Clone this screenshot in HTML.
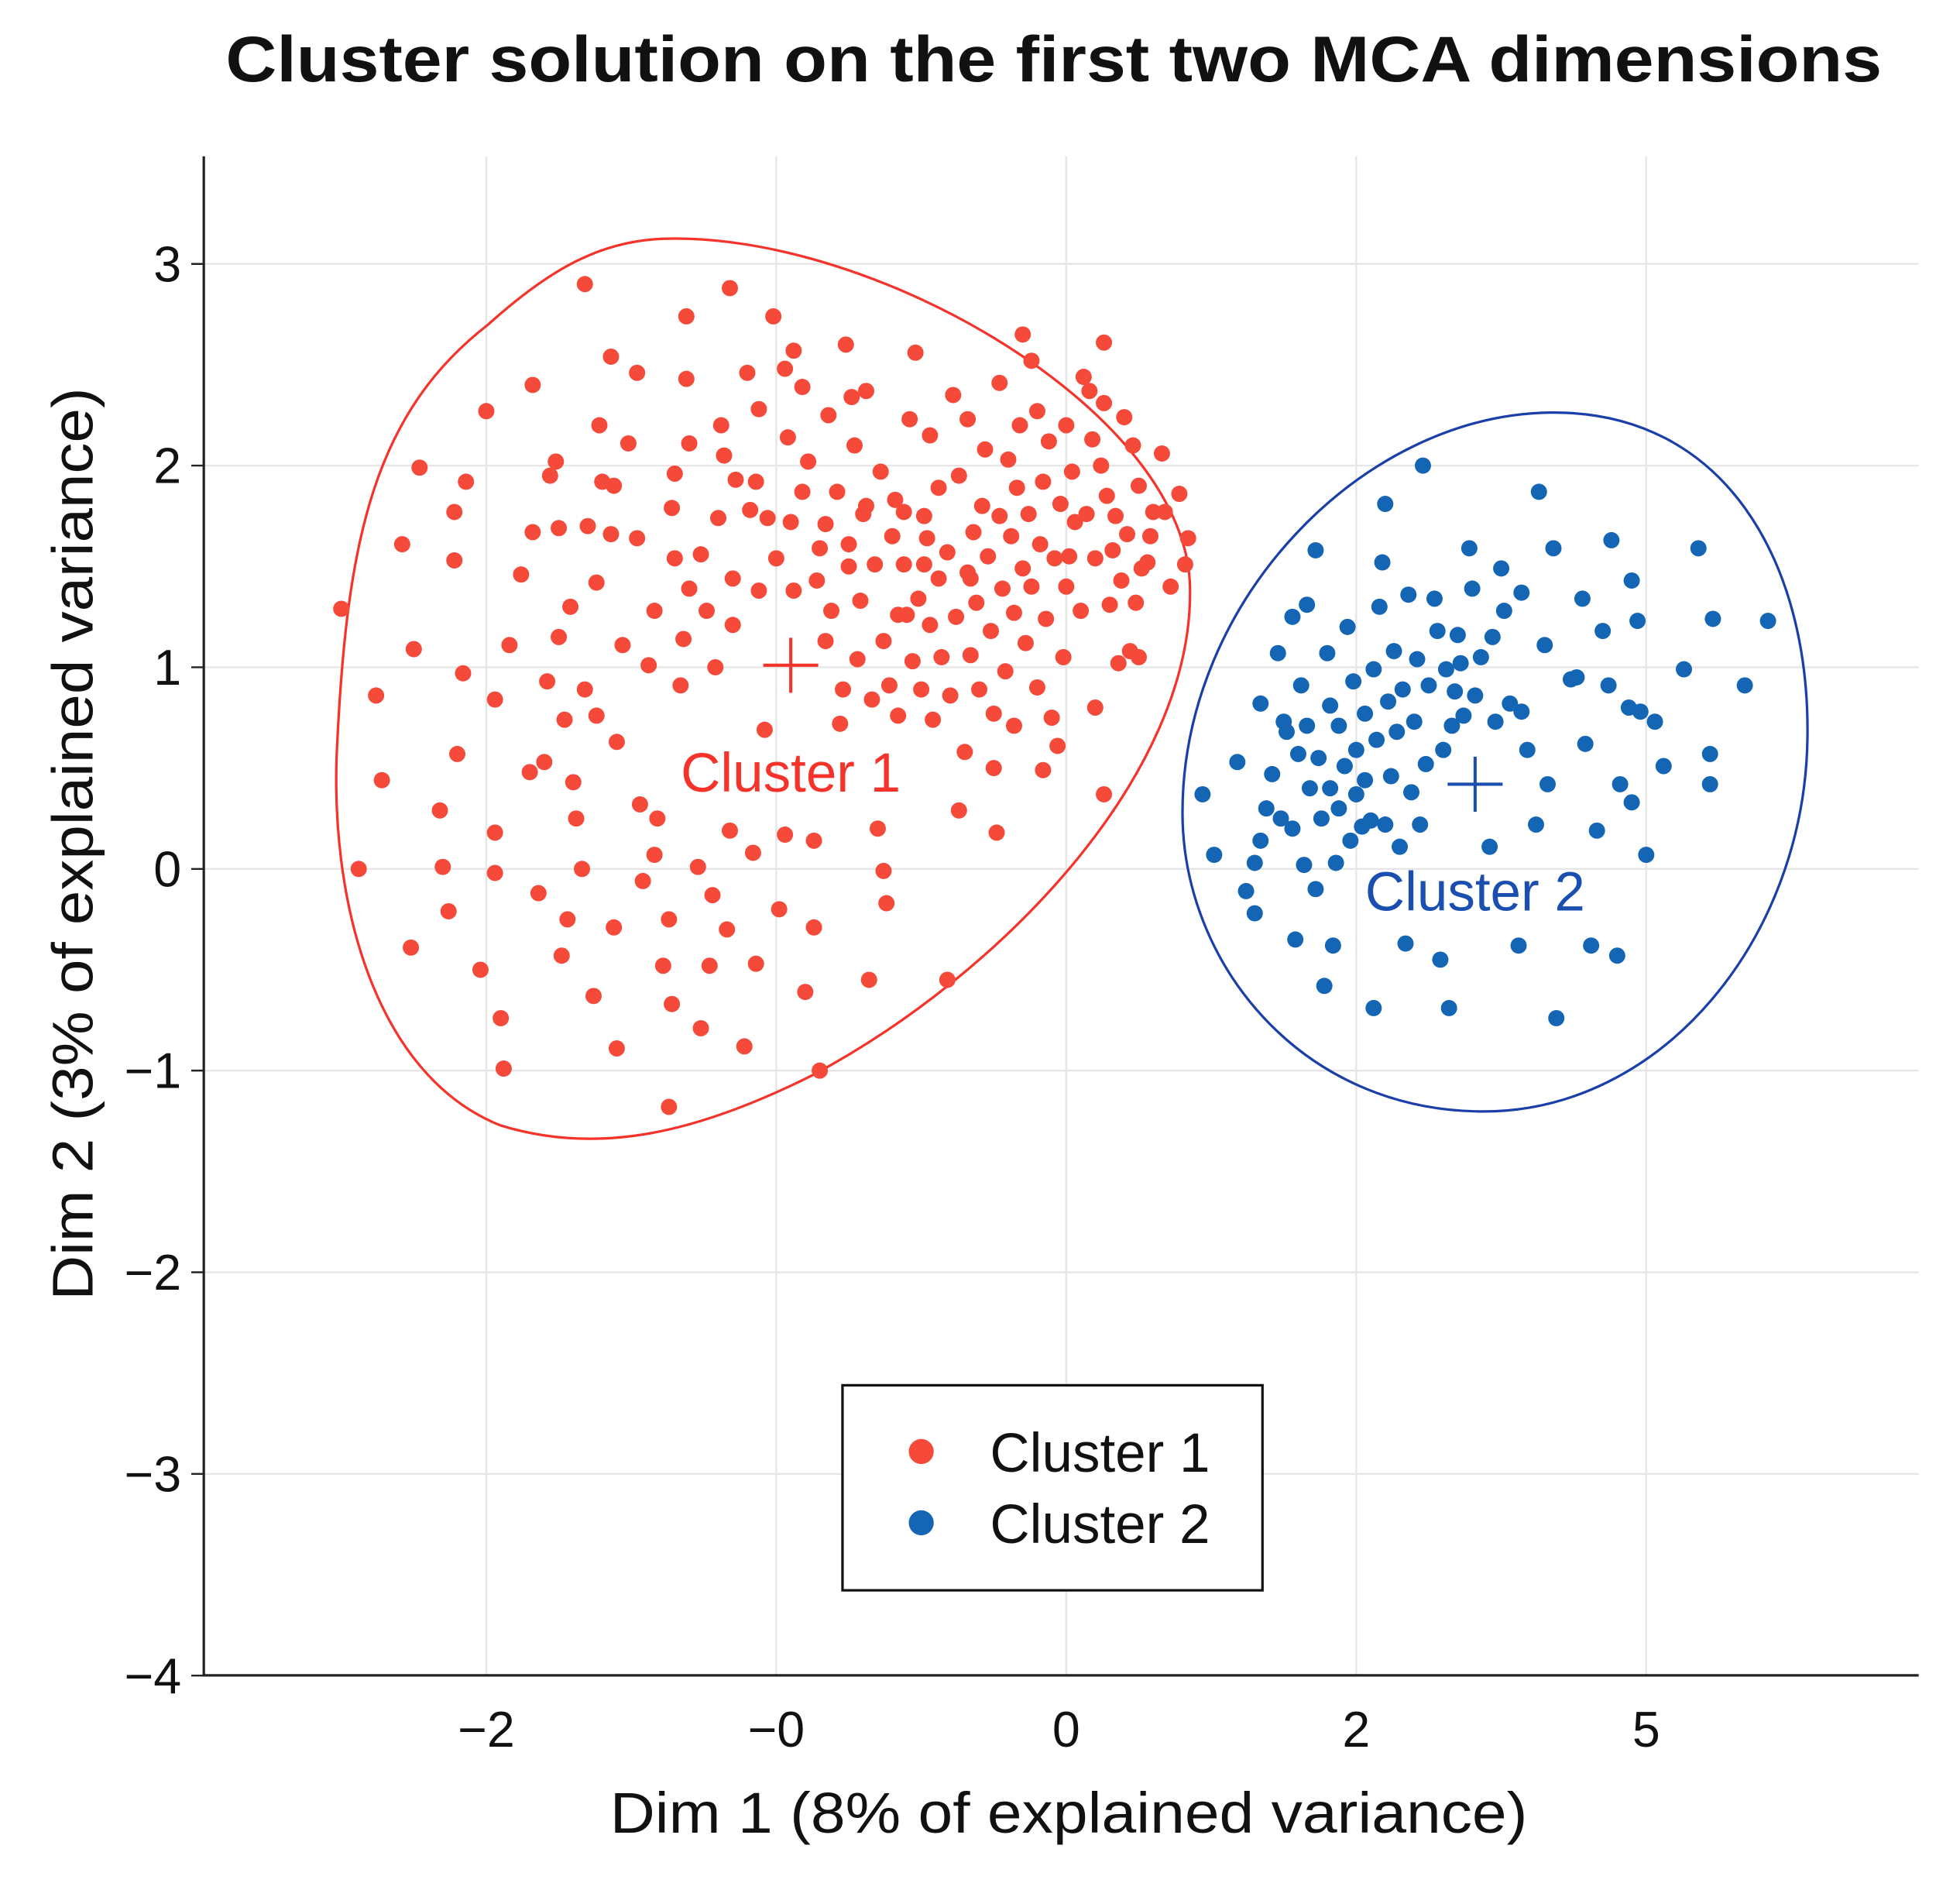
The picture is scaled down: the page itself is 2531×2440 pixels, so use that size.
<!DOCTYPE html>
<html><head><meta charset="utf-8"><style>
html,body{margin:0;padding:0;background:#fff;}
svg{display:block;font-family:"Liberation Sans",sans-serif;}
</style></head><body>
<svg id="chart" width="2531" height="2440" viewBox="0 0 1568 1511.7" xmlns="http://www.w3.org/2000/svg">
<rect x="0" y="0" width="1568" height="1512" fill="#fff"/>
<text x="843" y="65" text-anchor="middle" font-size="52" font-weight="bold" fill="#111" textLength="1325" lengthAdjust="spacingAndGlyphs">Cluster solution on the first two MCA dimensions</text>
<g id="grid"></g>
<g id="axes"></g>
<g id="shapes"></g>
<g id="points"></g>
<g id="annot"></g>
<g>
<rect x="674" y="1108" width="336" height="164" fill="#fff" stroke="#111" stroke-width="2"/>
<circle cx="737" cy="1161" r="10" fill="#f5493a"/>
<text x="792" y="1177" font-size="44" fill="#111">Cluster 1</text>
<circle cx="737" cy="1218" r="10" fill="#1565b5"/>
<text x="792" y="1234" font-size="44" fill="#111">Cluster 2</text>
</g>
<text x="855" y="1466" text-anchor="middle" font-size="46" fill="#111" textLength="734" lengthAdjust="spacingAndGlyphs">Dim 1 (8% of explained variance)</text>
<text transform="translate(74,675) rotate(-90)" text-anchor="middle" font-size="46" fill="#111" textLength="730" lengthAdjust="spacingAndGlyphs">Dim 2 (3% of explained variance)</text>
</svg>
<script>
const xTickValues=[-2,-1,0,1,2];
const xTickLabels=["\u22122","\u22120","0","2","5"];
const yTickValues=[3,2,1,0,-1,-2,-3,-4];
const yTickLabels=["3","2","1","0","\u22121","\u22122","\u22123","\u22124"];
const cluster1=[[-2.50,1.29],[-2.38,0.86],[-2.44,0.0],[-2.36,0.44],[-2.29,1.61],[-2.25,1.09],[-2.23,1.99],[-2.26,-0.39],[-2.16,0.29],[-2.15,0.01],[-2.13,-0.21],[-2.11,1.77],[-2.11,1.53],[-2.10,0.57],[-2.07,1.92],[-2.08,0.97],[-2.02,-0.50],[-2.00,2.27],[-1.97,0.84],[-1.97,0.18],[-1.97,-0.02],[-1.95,-0.74],[-1.94,-0.99],[-1.92,1.11],[-1.88,1.46],[-1.84,2.40],[-1.84,1.67],[-1.85,0.48],[-1.82,-0.12],[-1.80,0.53],[-1.79,0.93],[-1.78,1.95],[-1.76,2.02],[-1.75,1.15],[-1.73,0.74],[-1.75,1.69],[-1.72,-0.25],[-1.74,-0.43],[-1.71,1.30],[-1.70,0.43],[-1.69,0.25],[-1.67,0.0],[-1.66,0.89],[-1.66,2.90],[-1.65,1.70],[-1.63,-0.63],[-1.62,1.42],[-1.62,0.76],[-1.61,2.20],[-1.60,1.92],[-1.57,2.54],[-1.57,1.66],[-1.56,-0.29],[-1.56,1.90],[-1.55,0.63],[-1.55,-0.89],[-1.53,1.11],[-1.51,2.11],[-1.48,2.46],[-1.48,1.64],[-1.47,0.32],[-1.46,-0.06],[-1.44,1.01],[-1.42,1.28],[-1.42,0.07],[-1.41,0.25],[-1.39,-0.48],[-1.37,-0.25],[-1.37,-1.18],[-1.36,-0.67],[-1.36,1.79],[-1.35,1.96],[-1.35,1.54],[-1.33,0.91],[-1.32,1.14],[-1.31,2.74],[-1.31,2.43],[-1.30,2.11],[-1.30,1.39],[-1.27,0.01],[-1.26,-0.79],[-1.26,1.56],[-1.24,1.28],[-1.23,-0.48],[-1.22,-0.13],[-1.21,1.00],[-1.20,1.74],[-1.19,2.20],[-1.18,2.05],[-1.17,-0.30],[-1.16,2.88],[-1.16,0.19],[-1.15,1.21],[-1.15,1.44],[-1.14,1.93],[-1.11,-0.88],[-1.10,2.46],[-1.09,1.78],[-1.08,0.08],[-1.07,-0.47],[-1.07,1.92],[-1.06,1.38],[-1.06,2.28],[-1.04,0.69],[-1.03,1.74],[-1.01,2.74],[-1.00,1.54],[-0.99,-0.20],[-0.97,2.48],[-0.97,0.17],[-0.96,2.14],[-0.95,1.72],[-0.94,2.57],[-0.94,1.38],[-0.91,1.87],[-0.91,2.39],[-0.90,-0.61],[-0.89,2.02],[-0.87,-0.29],[-0.87,0.14],[-0.86,1.43],[-0.85,1.59],[-0.85,-1.00],[-0.83,1.71],[-0.83,1.13],[-0.82,2.25],[-0.81,1.28],[-0.79,1.87],[-0.78,0.72],[-0.77,0.89],[-0.76,2.60],[-0.75,1.50],[-0.74,2.34],[-0.73,2.10],[-0.72,1.04],[-0.71,1.33],[-0.70,1.76],[-0.69,1.80],[-0.69,2.37],[-0.68,-0.55],[-0.67,0.84],[-0.66,1.51],[-0.65,0.20],[-0.64,1.97],[-0.63,1.13],[-0.63,-0.01],[-0.62,-0.17],[-0.61,0.91],[-0.60,1.65],[-0.59,1.83],[-0.58,1.26],[-0.58,0.76],[-0.56,1.77],[-0.56,1.51],[-0.54,2.23],[-0.53,1.03],[-0.52,2.56],[-0.51,1.34],[-0.50,0.89],[-0.49,1.75],[-0.48,1.64],[-0.47,2.15],[-0.47,1.21],[-0.46,0.74],[-0.44,1.44],[-0.44,1.89],[-0.43,1.05],[-0.41,-0.55],[-0.41,1.57],[-0.40,0.86],[-0.39,2.35],[-0.38,1.25],[-0.37,1.95],[-0.37,0.29],[-0.35,0.58],[-0.34,1.47],[-0.34,2.23],[-0.33,1.06],[-0.32,1.67],[-0.31,1.32],[-0.30,0.89],[-0.29,1.80],[-0.28,2.08],[-0.27,1.55],[-0.26,1.18],[-0.25,0.77],[-0.25,0.50],[-0.24,0.18],[-0.23,2.41],[-0.23,1.75],[-0.22,1.39],[-0.21,0.98],[-0.20,2.03],[-0.19,1.65],[-0.18,1.27],[-0.18,0.71],[-0.17,1.89],[-0.16,2.20],[-0.15,2.65],[-0.15,1.49],[-0.14,1.12],[-0.13,1.76],[-0.12,2.52],[-0.12,1.40],[-0.10,2.27],[-0.10,0.90],[-0.09,1.61],[-0.08,0.49],[-0.08,1.92],[-0.07,1.24],[-0.06,2.12],[-0.05,0.75],[-0.04,1.54],[-0.03,0.61],[-0.02,1.81],[-0.01,1.05],[0.00,2.20],[0.00,1.40],[0.01,1.55],[0.02,1.97],[0.03,1.72],[0.05,1.28],[0.06,2.44],[0.07,1.76],[0.08,2.37],[0.09,2.13],[0.10,0.80],[0.10,1.54],[0.12,2.00],[0.13,0.37],[0.13,2.61],[0.14,1.85],[0.15,1.31],[0.16,1.58],[0.17,1.75],[0.18,1.02],[0.19,1.43],[0.20,2.24],[0.21,1.66],[0.22,1.08],[0.23,2.10],[0.24,1.32],[0.25,1.05],[0.25,1.90],[0.26,1.49],[0.28,1.52],[0.29,1.65],[0.30,1.77],[0.33,2.06],[0.34,1.77],[0.36,1.40],[0.39,1.86],[0.41,1.51],[0.42,1.64],[0.13,2.31],[-0.75,1.61],[-0.49,1.51],[-0.33,1.44],[-0.55,1.26]];
const cluster2=[[0.47,0.37],[0.51,0.07],[0.59,0.53],[0.62,-0.11],[0.65,-0.22],[0.65,0.03],[0.67,0.82],[0.67,0.14],[0.69,0.30],[0.71,0.47],[0.73,1.07],[0.74,0.25],[0.75,0.73],[0.76,0.68],[0.78,1.25],[0.78,0.20],[0.79,-0.35],[0.80,0.57],[0.81,0.91],[0.82,0.02],[0.83,1.31],[0.83,0.71],[0.84,0.40],[0.86,1.58],[0.86,-0.10],[0.87,0.55],[0.88,0.25],[0.89,-0.58],[0.90,1.07],[0.91,0.81],[0.91,0.40],[0.92,-0.38],[0.93,0.03],[0.94,0.71],[0.94,0.30],[0.96,0.51],[0.97,1.20],[0.98,0.14],[0.99,0.93],[1.00,0.59],[1.00,0.37],[1.02,0.21],[1.03,0.77],[1.03,0.44],[1.05,0.24],[1.06,-0.69],[1.06,0.99],[1.07,0.64],[1.08,1.30],[1.09,1.52],[1.10,1.81],[1.10,0.22],[1.11,0.83],[1.12,0.46],[1.13,1.08],[1.14,0.68],[1.15,0.11],[1.16,0.89],[1.17,-0.37],[1.18,1.36],[1.19,0.38],[1.20,0.73],[1.21,1.04],[1.22,0.22],[1.23,2.00],[1.24,0.52],[1.25,0.91],[1.27,1.34],[1.28,1.18],[1.29,-0.45],[1.30,0.59],[1.31,0.99],[1.32,-0.69],[1.33,0.71],[1.34,0.88],[1.35,1.16],[1.36,1.02],[1.37,0.76],[1.39,1.59],[1.40,1.39],[1.41,0.86],[1.43,1.05],[1.46,0.11],[1.47,1.15],[1.48,0.73],[1.50,1.49],[1.51,1.28],[1.53,0.82],[1.56,-0.38],[1.57,1.37],[1.57,0.78],[1.59,0.59],[1.62,0.22],[1.63,1.87],[1.65,1.11],[1.66,0.42],[1.68,1.59],[1.69,-0.74],[1.76,0.95],[1.78,1.34],[1.79,0.62],[1.81,-0.38],[1.83,0.19],[1.85,1.18],[1.87,0.91],[1.88,1.63],[1.90,-0.43],[1.91,0.42],[1.94,0.80],[1.95,1.43],[1.97,1.23],[1.98,0.78],[2.00,0.07],[2.03,0.73],[2.06,0.51],[2.13,0.99],[2.18,1.59],[2.22,0.42],[2.22,0.57],[2.23,1.24],[2.34,0.91],[2.42,1.23],[1.95,0.33],[1.74,0.94]];
const centroids=[[-0.95,1.01],[1.41,0.42]];
const clusterNames=["Cluster 1","Cluster 2"];

const NS="http://www.w3.org/2000/svg";
const X=v=>853+232*v;
const Y=v=>695-161.3*v;
function mk(tag,parent,attrs){const e=document.createElementNS(NS,tag);for(const k in attrs)e.setAttribute(k,attrs[k]);parent.appendChild(e);return e;}
const grid=document.getElementById('grid'),axes=document.getElementById('axes');
xTickValues.forEach((v,i)=>{
  const gl=mk('line',grid,{x1:X(v),x2:X(v),y1:125,y2:1340,stroke:'#e6e6e6','stroke-width':1.5});
  
  
  const t=mk('text',axes,{x:X(v),y:1397,'text-anchor':'middle','font-size':40,fill:'#111'});
  t.textContent=xTickLabels[i];
  
  
});
yTickValues.forEach((v,i)=>{
  const gl=mk('line',grid,{x1:163,x2:1535,y1:Y(v),y2:Y(v),stroke:'#e6e6e6','stroke-width':1.5});
  
  
  const tk=mk('line',axes,{x1:153,x2:163,y1:Y(v),y2:Y(v),stroke:'#222','stroke-width':1.5});
  
  
  const t=mk('text',axes,{x:145,y:Y(v)+14,'text-anchor':'end','font-size':40,fill:'#111'});
  t.textContent=yTickLabels[i];
  
  
});
const ya=mk('line',axes,{x1:163,x2:163,y1:125,y2:1341,stroke:'#222','stroke-width':2});


const xa=mk('line',axes,{x1:162,x2:1535,y1:1340,y2:1340,stroke:'#222','stroke-width':2});



const shapes=document.getElementById('shapes');
const red=mk('path',shapes,{d:'M 530,191 C 700,185 950,330 952,470 C 955,620 800,780 650,860 C 560,905 480,925 400,900 C 300,860 262,720 270,590 C 278,430 300,330 390,260 C 440,215 480,193 530,191 Z',fill:'none',stroke:'#f5332a','stroke-width':2});


const blue=mk('path',shapes,{d:'M 1240,330 C 1380,328 1448,450 1446,590 C 1444,750 1330,890 1185,889 C 1040,888 946,770 946,650 C 946,480 1090,332 1240,330 Z',fill:'none',stroke:'#1a3fa8','stroke-width':2});



const pts=document.getElementById('points');
[[cluster1,'#f5493a','cluster-1-point'],[cluster2,'#1565b5','cluster-2-point']].forEach(([arr,col,nm])=>{
  arr.forEach(p=>{
    const c=mk('circle',pts,{cx:X(p[0]),cy:Y(p[1]),r:6.5,fill:col});
    
    
  });
});
const an=document.getElementById('annot');
const cols=['#f5332a','#1a4fb0'];
centroids.forEach((c,i)=>{
  const cx=X(c[0]),cy=Y(c[1]);
  const p=mk('path',an,{d:`M ${cx-22},${cy} H ${cx+22} M ${cx},${cy-22} V ${cy+22}`,stroke:cols[i],'stroke-width':2.5,fill:'none'});
  
  
  const t=mk('text',an,{x:cx,y:cy+101,'text-anchor':'middle','font-size':44,fill:cols[i]});
  t.textContent=clusterNames[i];
  
  
});
</script>
</body></html>
